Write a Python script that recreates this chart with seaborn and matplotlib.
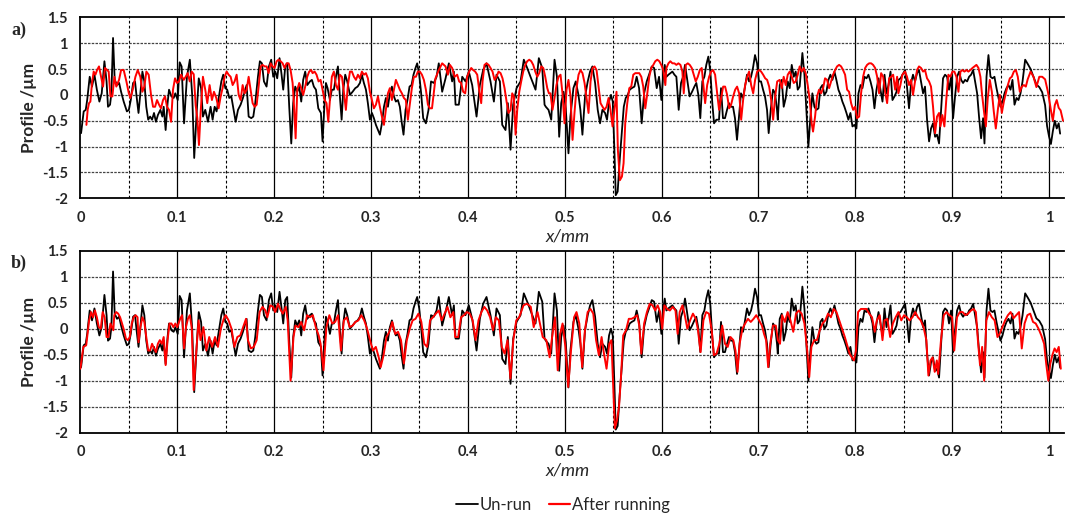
import numpy as np
import pandas as pd
import matplotlib
matplotlib.use("Agg")
import matplotlib.pyplot as plt
import seaborn as sns
from matplotlib.lines import Line2D

# ---------------- data ----------------
unrun_x = [0.0007,0.0034,0.0055,0.007,0.0096,0.012,0.0145,0.017,0.0196,0.022,0.0248,0.027,0.0285,0.0306,0.032,0.0337,0.0354,0.0378,0.04,0.042,0.0447,0.048,0.05,0.052,0.0544,0.0564,0.058,0.060,0.062,0.064,0.066,0.068,0.070,0.072,0.074,0.076,0.078,0.080,0.0826,0.0846,0.086,0.088,0.090,0.0915,0.094,0.0963,0.098,0.1005,0.1025,0.1045,0.107,0.110,0.113,0.1155,0.1175,
0.12,0.1222,0.1246,0.1265,0.1289,0.1317,0.1344,0.1365,0.1386,0.1406,0.143,0.1455,0.1475,0.1496,0.1516,0.1537,0.1558,0.1582,0.1603,0.1627,0.1654,0.1678,0.1702,0.1716,0.1737,0.1764,0.1785,0.1805,0.1833,0.1853,0.1874,0.1895,0.1922,0.1946,0.197,0.1991,0.2012,0.2032,0.2056,0.2077,0.2094,0.2115,0.2135,0.2156,0.2177,0.2197,0.2218,0.2239,0.2259,0.228,0.23,0.2321,0.2342,
0.237,0.239,0.241,0.2432,0.2456,0.2483,0.25,0.2517,0.2535,0.2552,0.2576,0.2596,0.2617,0.2638,0.2659,0.2679,0.2697,0.2714,0.2734,0.2755,0.2783,0.281,0.2838,0.2862,0.2886,0.2906,0.2927,0.2948,0.2968,0.2989,0.301,0.303,0.3051,0.3072,0.3092,0.3113,0.3134,0.3154,0.3175,0.3195,0.3216,0.3237,0.3257,0.3278,0.3298,0.3319,0.3336,0.3357,0.3377,0.3398,0.3419,0.3439,0.346,0.3477,0.3498,0.3518,0.3539,0.3567,0.3594,
0.362,0.3649,0.3677,0.37,0.3735,0.377,0.3804,0.3838,0.3856,0.3873,0.3907,0.3942,0.3976,0.401,0.4045,0.409,0.4124,0.4158,0.4193,0.4234,0.4269,0.4296,0.4331,0.4355,0.4389,0.4413,0.4441,0.4468,0.4503,0.4544,0.4578,0.4613,0.4647,0.4699,0.4733,0.4768,
0.4792,0.4805,0.4833,0.4861,0.4895,0.492,0.4943,0.4964,0.4988,0.5011,0.5039,0.5059,0.509,0.5114,0.5142,0.5162,0.5183,0.521,0.5238,0.5262,0.5286,0.5314,0.5341,0.5365,0.5389,0.5417,0.5437,0.5458,0.5478,0.5496,0.5513,0.5527,0.5547,0.5568,0.5589,0.561,0.563,0.5651,0.5671,0.5692,0.572,0.5743,0.5768,0.5795,0.582,0.5847,0.5871,0.5899,0.5923,0.595,0.5974,
0.5998,0.6016,0.6033,0.605,0.6071,0.6091,0.6112,0.6133,0.6153,0.6177,0.6201,0.6222,0.6242,0.6263,0.629,0.6315,0.6339,0.6359,0.638,0.64,0.6421,0.6442,0.6462,0.6483,0.6504,0.6524,0.6542,0.6566,0.6593,0.6614,0.6634,0.6655,0.6676,0.6696,0.6717,0.6738,0.6758,0.6779,0.68,0.682,0.6841,0.6862,0.6882,0.6903,0.6924,0.6944,0.6965,0.6986,0.7006,0.7027,0.7048,0.7068,0.7089,0.7106,0.7127,0.7151,0.7172,0.7192,
0.72,0.722,0.7241,0.7261,0.7282,0.7303,0.7323,0.7344,0.7365,0.7385,0.7406,0.7426,0.7454,0.7475,0.7495,0.7516,0.7537,0.7557,0.7578,0.7599,0.762,0.764,0.7661,0.7681,0.7702,0.7723,0.7743,0.7764,0.7785,0.7805,0.7826,0.7847,0.7867,0.7888,0.7909,0.7929,0.795,0.7971,0.7991,0.8012,0.8033,0.8054,0.8074,0.8095,0.8116,0.8136,0.8157,0.8178,0.8198,0.8219,0.824,0.826,0.8281,0.8302,0.8322,0.8343,0.8364,0.8384,0.8405,0.8426,0.8446,0.8467,0.8488,
0.8514,0.8534,0.8555,0.8576,0.8596,0.8617,0.8638,0.8658,0.8679,0.87,0.872,0.8741,0.8762,0.8782,0.8803,0.8824,0.8844,0.8865,0.8886,0.8906,0.8927,0.8948,0.8968,0.8989,0.901,0.903,0.9051,0.9072,0.9093,0.9113,0.9134,0.9155,0.9175,0.9196,0.9217,0.9237,0.9258,0.9279,0.9299,0.932,0.9334,0.9355,0.9375,0.9396,0.9417,0.9437,0.9458,0.9479,0.9499,0.952,0.9541,0.9561,0.9582,0.9603,0.9623,0.9644,0.9665,0.9685,0.9706,0.9727,0.9754,
0.978,0.981,0.984,0.987,0.99,0.993,0.996,0.998,1.0,1.002,1.004,1.006,1.008,1.01,1.0115]
unrun_y = [-0.74,-0.32,-0.29,-0.1,0.35,0.16,0.39,0.10,-0.13,0.03,0.65,0.26,-0.23,-0.19,0.03,1.1,0.29,0.19,0.23,0.06,-0.13,-0.32,-0.29,-0.1,0.23,0.26,-0.03,-0.35,0.06,0.45,0.26,-0.23,-0.48,-0.42,-0.48,-0.35,-0.52,-0.39,-0.29,-0.42,-0.23,-0.68,-0.16,0.1,-0.03,-0.06,0.03,-0.1,0.63,0.55,-0.55,0.35,0.68,-0.03,-1.22,
-0.35,0.32,0.13,-0.42,-0.29,-0.52,-0.23,-0.48,-0.23,-0.32,-0.03,0.26,0.39,0.13,0.1,-0.06,-0.03,-0.29,-0.52,-0.29,-0.19,-0.06,0.1,0.19,-0.42,-0.45,-0.42,-0.16,0.35,0.65,0.61,0.26,0.16,0.55,0.68,0.35,0.45,0.32,0.71,0.39,0.1,0.55,0.61,-0.23,-0.94,-0.16,0.16,0.06,0.16,-0.13,0.29,0.45,0.19,
0.26,0.29,0.16,0.1,-0.26,-0.35,-0.9,-0.29,0.23,0.13,-0.1,0.1,0.1,0.35,0.55,-0.03,-0.48,0.1,0.39,0.26,0.0,0.06,0.13,0.16,0.23,0.39,0.23,0.1,-0.16,-0.48,-0.35,-0.45,-0.58,-0.68,-0.77,-0.55,-0.23,-0.06,-0.23,0.03,0.16,-0.03,-0.13,-0.1,-0.23,-0.55,-0.77,-0.29,-0.1,0.16,0.19,0.39,0.52,0.61,0.39,0.03,-0.45,-0.55,-0.29,
0.26,0.23,0.35,0.61,0.06,0.32,0.61,0.26,0.45,-0.19,-0.19,0.35,0.26,0.45,0.19,-0.42,0.19,0.48,0.61,0.26,-0.13,0.39,0.26,-0.58,-0.68,-0.16,-1.06,-0.19,0.13,0.26,0.68,0.52,0.35,0.1,0.71,0.52,
-0.19,-0.23,-0.29,-0.48,0.68,0.35,-0.81,-0.16,0.06,-0.26,-1.13,-0.42,0.13,0.26,0.0,-0.29,-0.77,-0.03,0.26,0.45,0.55,0.23,-0.29,-0.55,-0.29,-0.35,-0.48,-0.13,0.0,-0.13,-1.06,-1.94,-1.87,-1.26,-0.74,-0.23,-0.06,0.0,0.1,0.13,0.16,0.35,0.13,-0.55,0.03,0.26,0.39,0.55,0.52,0.13,0.35,
-0.1,0.35,0.58,0.35,0.39,0.42,0.45,0.39,0.35,-0.29,0.23,0.35,0.58,0.32,-0.03,0.06,0.16,0.23,0.0,-0.45,0.26,0.35,0.58,0.74,0.45,-0.16,-0.55,-0.48,-0.48,0.13,-0.45,-0.45,-0.29,-0.16,-0.23,-0.23,-0.45,-0.87,-0.42,0.03,-0.06,0.16,0.39,0.26,0.35,0.52,0.77,0.61,0.26,0.26,0.1,-0.03,-0.29,-0.74,-0.29,0.1,0.03,-0.29,
-0.48,0.19,0.29,-0.23,-0.06,0.26,0.13,0.58,0.35,0.45,0.1,0.16,0.81,0.39,-0.29,-1.0,-0.42,0.03,-0.23,-0.29,-0.26,0.13,0.19,0.0,0.06,0.29,0.39,0.29,0.45,0.29,0.1,0.0,-0.13,-0.23,-0.35,-0.48,-0.35,-0.61,-0.58,-0.65,0.03,0.19,0.13,0.35,0.32,0.39,0.26,0.1,-0.26,0.1,0.32,0.1,-0.13,0.39,0.03,0.19,0.45,-0.1,-0.03,0.06,0.29,0.32,0.39,
0.48,0.16,-0.26,0.23,0.39,0.26,0.42,0.48,0.26,0.03,0.16,-0.48,-0.9,-0.65,-0.55,-0.81,-0.77,-0.94,-0.29,0.32,0.39,0.35,0.1,0.35,-0.45,-0.03,0.35,0.45,0.29,0.23,0.29,0.26,0.35,0.39,0.48,0.26,0.03,-0.45,-0.84,-0.45,-0.94,0.35,0.77,0.35,0.32,0.35,0.13,-0.06,-0.23,-0.13,0.03,0.13,0.19,0.1,0.29,-0.19,-0.06,-0.1,0.03,0.26,0.68,
0.6,0.5,0.35,0.2,0.15,0.05,-0.2,-0.6,-0.8,-0.95,-0.7,-0.5,-0.65,-0.55,-0.75]

after_a_x = [0.0062,0.0075,0.0089,0.0103,0.012,0.0137,0.0155,0.0172,0.0192,0.0213,0.0234,0.0254,0.0275,0.0292,0.031,0.033,0.0351,0.0371,0.0399,0.042,0.0447,0.0475,0.05,0.0516,0.054,0.0568,0.0592,0.0619,0.064,0.066,0.0681,0.0705,0.0729,0.075,0.0771,0.0791,0.0812,0.0832,0.0853,0.0874,0.0894,0.0915,0.0936,0.0956,0.0977,0.0998,0.1018,0.1039,0.1067,0.1087,0.1108,0.1129,0.1149,0.117,0.119,0.1207,0.1224,0.1241,
0.1265,0.1289,0.131,0.1334,0.1358,0.1379,0.1403,0.1427,0.1448,0.1468,0.1489,0.151,0.153,0.1551,0.1572,0.1592,0.1613,0.1634,0.1654,0.1675,0.1696,0.1716,0.1737,0.1757,0.1778,0.1799,0.182,0.184,0.1861,0.1881,0.1902,0.1923,0.1943,0.1964,0.1984,0.2005,0.2026,0.2046,0.2067,0.2088,0.2108,0.2129,0.215,0.217,0.2191,0.2208,0.2222,0.2239,0.2259,0.228,0.23,0.2321,0.2342,0.2362,0.2383,
0.2397,0.2418,0.2438,0.2459,0.248,0.25,0.2521,0.2541,0.2559,0.2576,0.2596,0.2617,0.2638,0.2659,0.2679,0.27,0.272,0.2741,0.2762,0.2783,0.2803,0.2824,0.2845,0.2865,0.2886,0.2906,0.2927,0.2948,0.2968,0.2989,0.301,0.303,0.3051,0.3072,0.3092,0.3113,0.3134,0.3154,0.3175,0.3195,0.3216,0.3237,0.3257,0.3278,0.3298,0.3319,0.334,0.336,0.3381,0.3402,0.3422,0.3443,0.3464,0.3484,0.3505,0.3526,0.3546,0.3567,0.3588,0.3608,
0.363,0.3666,0.37,0.3735,0.377,0.3794,0.3815,0.3838,0.3863,0.389,0.391,0.3931,0.3952,0.3973,0.3993,0.4014,0.4035,0.4055,0.4076,0.4097,0.4117,0.4138,0.4152,0.4172,0.4193,0.4214,0.4234,0.4255,0.4276,0.4296,0.4317,0.4338,0.4358,0.4379,0.44,0.442,0.4441,0.4458,0.4475,0.4493,0.451,0.4531,0.4551,0.4572,0.4593,0.4613,0.4634,0.4655,0.4675,0.4696,0.4717,0.4737,0.4758,0.4779,0.4799,0.482,
0.4837,0.4853,0.4874,0.4895,0.4915,0.4936,0.4957,0.4977,0.4998,0.5019,0.5039,0.506,0.5081,0.5101,0.5122,0.5143,0.5163,0.5184,0.5205,0.5225,0.5246,0.5267,0.5287,0.5308,0.5329,0.5349,0.537,0.5391,0.5411,0.5432,0.5453,0.5473,0.5494,0.5515,0.5535,0.5549,0.557,0.5591,0.5608,0.5625,0.5646,0.5667,0.5687,0.5708,0.5729,0.5749,0.577,0.5791,0.5811,0.5832,0.5853,0.5873,0.5894,0.5915,0.5935,0.5956,0.5977,0.5997,0.6018,0.6039,
0.605,0.6071,0.6091,0.6112,0.6133,0.6153,0.6174,0.6195,0.6215,0.6229,0.625,0.6271,0.6291,0.6312,0.6333,0.6353,0.6374,0.6395,0.6415,0.6436,0.645,0.6471,0.6491,0.6512,0.6532,0.6553,0.6574,0.6594,0.6615,0.6636,0.6656,0.6677,0.6698,0.6718,0.6739,0.676,0.678,0.6801,0.6822,0.6842,0.6863,0.6884,0.6904,0.6925,0.6946,0.6966,0.6987,0.7008,0.7028,0.7049,0.707,0.709,0.7111,0.7132,0.7152,0.7173,0.7194,
0.722,0.7241,0.7261,0.7282,0.7303,0.7323,0.7344,0.7365,0.7385,0.7406,0.7426,0.7447,0.7468,0.7488,0.7509,0.753,0.755,0.7564,0.7585,0.7606,0.7626,0.7647,0.7668,0.7688,0.7709,0.773,0.775,0.7771,0.7792,0.7812,0.7833,0.7854,0.7874,0.7895,0.7916,0.7936,0.7957,0.7978,0.7998,0.8019,0.804,0.806,0.8081,0.8102,0.8122,0.8143,0.8164,0.8184,0.8205,0.8226,0.8246,0.8267,0.8288,0.8308,0.8329,0.835,0.837,0.8391,0.8412,0.8432,
0.8445,0.8466,0.8486,0.8514,0.8534,0.8555,0.8576,0.8596,0.8617,0.8638,0.8658,0.8679,0.87,0.872,0.8741,0.8762,0.8782,0.8803,0.8824,0.8844,0.8865,0.8879,0.8899,0.892,0.8941,0.8961,0.8982,0.9003,0.9023,0.9044,0.9065,0.9086,0.9106,0.9127,0.9148,0.9168,0.9189,0.921,0.923,0.9251,0.9272,0.9292,0.9306,0.9327,0.9348,0.9368,0.9389,0.941,0.943,0.9451,0.9472,0.9492,0.9513,0.9534,0.9554,0.9575,0.9596,0.9616,0.9637,0.9658,0.9678,0.9699,0.972,0.9741,0.9761,
0.978,0.981,0.984,0.987,0.99,0.993,0.996,0.999,1.002,1.004,1.006,1.008,1.01,1.012,1.0145]
after_a_y = [-0.58,-0.29,-0.16,-0.13,0.23,0.45,0.39,0.48,0.55,0.35,0.16,0.52,0.48,0.45,-0.03,-0.03,0.35,0.16,0.29,0.48,0.48,0.26,0.03,-0.06,0.1,0.35,0.48,0.35,0.06,0.16,0.45,0.39,0.0,-0.23,-0.23,-0.1,-0.19,-0.26,-0.1,-0.03,-0.23,-0.29,-0.52,0.1,0.32,0.23,0.26,0.39,0.29,0.35,0.42,0.26,0.45,0.40,-0.2,-0.45,-0.97,-0.35,
0.35,0.1,-0.16,0.19,-0.1,0.06,-0.06,-0.26,-0.03,0.13,0.35,0.45,0.39,0.35,0.19,0.26,0.39,0.0,-0.1,0.19,0.03,0.1,0.35,0.1,-0.16,-0.23,-0.19,0.16,0.55,0.58,0.55,0.55,0.42,0.61,0.55,0.52,0.65,0.68,0.65,0.61,0.52,0.61,0.61,0.48,0.23,-0.29,-0.84,0.1,0.23,0.13,0.0,0.16,0.35,0.45,0.48,
0.42,0.45,0.39,0.26,0.29,0.1,-0.1,-0.16,-0.52,-0.1,0.35,0.45,0.19,0.1,0.39,0.35,0.06,-0.29,0.19,0.45,0.45,0.35,0.29,0.39,0.32,0.45,0.39,0.42,0.32,0.06,-0.1,-0.26,-0.19,-0.03,-0.23,-0.42,-0.58,-0.29,0.03,0.13,-0.1,0.1,0.29,0.19,0.1,0.03,-0.06,-0.1,-0.48,-0.16,0.13,0.35,0.35,0.45,0.45,0.39,0.29,0.1,-0.19,-0.26,
-0.26,0.32,0.48,0.61,0.55,0.39,0.58,0.52,0.35,0.39,0.26,0.23,0.06,0.03,0.35,0.45,0.52,0.48,0.45,0.39,0.1,-0.16,0.26,0.58,0.61,0.58,0.52,0.45,0.29,0.35,0.45,0.42,0.32,0.13,-0.13,-0.35,-0.29,0.03,-0.03,-0.77,-0.29,0.06,0.26,0.45,0.58,0.65,0.68,0.65,0.58,0.45,0.35,0.42,0.55,0.52,0.35,0.13,
0.03,0.03,-0.29,-0.06,0.19,0.35,0.39,0.03,-0.55,0.1,0.29,-0.03,-0.87,-0.35,0.13,0.39,0.48,0.42,0.23,-0.06,-0.35,0.26,0.52,0.55,0.48,0.16,-0.16,-0.23,-0.29,-0.23,-0.06,-0.29,-0.61,-0.26,0.06,-1.06,-1.65,-1.58,-1.32,-0.55,-0.16,0.13,0.16,0.39,0.42,0.42,0.42,0.35,0.16,-0.26,0.03,0.35,0.52,0.58,0.65,0.68,0.65,0.58,0.48,0.19,
0.52,0.61,0.65,0.61,0.61,0.58,0.61,0.58,0.45,0.03,0.58,0.61,0.58,0.52,0.39,0.26,0.35,0.48,0.52,0.1,-0.16,0.19,0.35,0.45,0.48,0.39,0.03,-0.29,-0.06,0.16,0.16,0.0,-0.26,-0.19,-0.03,0.1,0.16,0.03,-0.48,-0.1,0.19,0.35,0.45,0.19,0.03,0.29,0.45,0.48,0.45,0.39,0.32,0.29,0.16,-0.1,-0.48,-0.03,0.26,
0.29,0.13,0.35,0.19,0.39,0.45,0.35,0.23,0.26,0.39,0.55,0.45,0.52,0.42,0.19,-0.1,-0.55,-0.71,-0.42,-0.03,0.1,0.03,0.13,0.32,0.29,0.13,0.26,0.39,0.48,0.55,0.58,0.55,0.48,0.39,0.1,0.06,-0.16,-0.29,-0.23,-0.45,-0.42,0.03,0.35,0.52,0.58,0.61,0.61,0.58,0.52,0.35,0.03,0.42,0.35,0.06,-0.16,0.32,0.35,0.39,0.1,0.35,
0.03,0.19,0.39,0.45,0.35,0.19,0.29,0.0,0.26,0.48,0.55,0.52,0.45,0.48,0.32,0.26,0.16,-0.23,-0.74,-0.42,-0.35,-0.61,-0.39,-0.61,-0.06,0.39,0.35,0.45,0.45,0.35,0.06,0.45,0.48,0.45,0.48,0.45,0.48,0.52,0.55,0.58,0.52,0.35,0.06,-0.29,-0.61,-0.06,0.29,0.06,-0.32,-0.65,-0.29,0.0,-0.35,-0.13,0.03,0.19,0.32,0.35,0.45,0.48,0.35,0.06,0.16,0.19,0.16,
0.3,0.45,0.35,0.15,0.35,0.35,0.3,0.05,-0.3,-0.5,-0.2,-0.1,-0.25,-0.3,-0.5]

after_b_x = [0.0,0.003,0.006,0.009,0.011,0.013,0.015,0.017,0.019,0.021,0.023,0.025,0.027,0.029,0.031,0.034,0.035,0.037,0.039,0.041,0.043,0.045,0.047,0.049,0.051,0.053,0.055,0.057,0.059,0.060,0.062,0.064,0.066,0.068,0.070,0.072,0.074,0.076,0.078,0.080,0.082,0.084,0.086,0.088,0.090,0.092,0.094,0.096,0.098,0.100,0.103,0.105,0.107,0.109,0.111,0.113,0.115,0.117,0.120,0.122,0.124,0.127,0.130,0.133,0.136,0.139,0.142,0.145,0.148,0.150,0.153,0.156,0.159,0.162,0.165,0.168,0.171,0.173,0.176,0.179,0.182,0.185,0.188,0.191,0.193,0.196,0.199,0.201,0.204,0.207,0.209,0.212,0.214,0.217,0.220,0.222,0.225,0.228,0.231,0.234,0.237,0.240,0.243,0.246,0.248,0.251,0.254,0.257,0.260,0.263,0.266,0.269,0.272,0.275,0.278,0.281,0.284,0.287,0.290,0.293,0.296,0.299,0.302,0.305,0.308,0.310,0.313,0.316,0.319,0.322,0.325,0.328,0.331,0.334,0.337,0.340,0.343,0.346,0.349,0.352,0.355,0.358,0.361,0.364,0.367,0.370,0.373,0.376,0.379,0.382,0.385,0.387,0.390,0.393,0.396,0.399,0.402,0.405,0.408,0.411,0.414,0.417,0.420,0.423,0.426,0.429,0.432,0.435,0.438,0.441,0.444,0.447,0.450,0.453,0.4575,0.461,0.465,0.468,0.472,0.4773,0.481,0.4845,0.487,0.49,0.4928,0.4953,0.4978,0.5007,0.5036,0.5065,0.5097,0.5122,0.5151,0.518,0.5209,0.5237,0.5266,0.5295,0.5324,0.5353,0.5381,0.5403,0.5432,0.546,0.5482,0.5504,0.5518,0.554,0.5561,0.5583,0.5604,0.5633,0.5662,0.5691,0.572,0.5748,0.577,0.5791,0.582,0.5849,0.5878,0.5906,0.5935,0.596,0.5986,0.6007,0.6029,0.6058,0.6086,0.6115,0.6144,0.6166,0.6187,0.6216,0.6237,0.6266,0.6295,0.6324,0.6353,0.6374,0.6403,0.6432,0.646,0.6489,0.6518,0.654,0.6568,0.6597,0.6626,0.6655,0.6683,0.6712,0.6741,0.6763,0.6784,0.6806,0.6835,0.6863,0.6892,0.6921,0.695,0.6978,0.7007,0.7036,0.7058,0.7079,0.7101,0.7122,0.7151,0.718,0.7201,0.7223,0.7245,0.7273,0.7302,0.7331,0.736,0.7388,0.7417,0.7446,0.7475,0.7504,0.7525,0.7547,0.7576,0.7604,0.7633,0.7662,0.7691,0.7719,0.7748,0.7777,0.7806,0.7835,0.7863,0.7892,0.7921,0.7942,0.7964,0.7986,0.8007,0.8029,0.8058,0.8086,0.8115,0.8144,0.8173,0.8201,0.8223,0.8252,0.8281,0.8302,0.8331,0.836,0.8388,0.8417,0.8446,0.8475,0.8504,0.8532,0.8561,0.859,0.8619,0.8647,0.8676,0.8705,0.8734,0.8755,0.8777,0.8799,0.882,0.8842,0.8856,0.8885,0.8914,0.8942,0.8971,0.9,0.9022,0.905,0.9079,0.9108,0.9137,0.9165,0.9194,0.9223,0.9245,0.9266,0.9288,0.931,0.9331,0.9353,0.9381,0.941,0.9439,0.9468,0.949,0.9518,0.9547,0.9576,0.9604,0.9633,0.9662,0.9691,0.9719,0.9748,0.9777,0.9806,0.9835,0.9863,0.9892,0.9921,0.995,0.9971,0.9993,1.0014,1.0036,1.0058,1.0079,1.0101,1.0122]
after_b_y = [-0.77,-0.35,-0.32,0.16,0.32,0.22,0.35,0.22,0.03,0.0,0.32,0.22,-0.16,-0.16,0.1,-0.03,0.26,0.32,0.29,0.22,0.1,-0.03,-0.19,-0.22,-0.16,0.1,0.22,0.26,0.22,-0.26,0.03,0.22,0.13,-0.16,-0.42,-0.42,-0.29,-0.38,-0.45,-0.29,-0.22,-0.29,-0.16,-0.7,-0.22,0.1,0.1,0.03,0.1,0.03,0.19,0.26,-0.38,0.03,0.19,0.26,0.0,-1.18,-0.35,0.16,-0.22,0.03,-0.42,-0.16,-0.35,-0.16,-0.35,0.0,0.19,0.26,0.16,0.0,-0.35,-0.16,-0.13,0.03,0.19,-0.22,-0.38,-0.35,-0.22,0.32,0.42,0.35,0.22,0.45,0.42,0.32,0.48,0.35,0.29,0.42,0.16,-1.0,-0.16,0.06,0.03,0.13,-0.03,0.26,0.22,0.26,0.03,-0.13,-0.29,-0.8,0.03,0.26,0.1,0.13,0.26,-0.42,0.16,0.22,0.03,0.06,0.13,0.16,0.26,0.16,0.0,-0.22,-0.42,-0.35,-0.55,-0.74,-0.51,-0.16,-0.06,0.13,-0.1,-0.06,-0.22,-0.67,-0.22,0.0,0.16,0.19,0.29,0.13,-0.29,-0.35,0.16,0.22,0.29,0.35,0.16,0.29,0.42,0.22,0.32,-0.16,-0.16,0.22,0.26,0.32,0.29,0.16,-0.22,0.16,0.32,0.42,0.35,0.22,-0.03,0.22,0.16,-0.35,-0.48,-0.22,-0.96,-0.22,0.16,0.22,0.45,0.48,0.42,0.03,0.32,-0.16,-0.22,-0.55,-0.16,0.22,-0.8,-0.1,0.1,-0.35,-1.12,-0.42,0.22,0.32,0.1,-0.74,-0.03,0.32,0.38,0.29,-0.22,-0.51,-0.16,-0.45,-0.77,-0.29,-0.22,-1.25,-1.92,-1.76,-1.5,-0.87,-0.13,-0.03,0.19,0.19,0.22,0.26,0.06,-0.48,0.1,0.32,0.48,0.45,0.35,0.45,0.32,0.0,0.45,0.38,0.35,0.42,0.35,-0.1,0.32,0.45,0.29,0.0,0.16,0.29,0.19,0.0,-0.45,0.16,0.32,0.29,-0.03,-0.51,-0.48,-0.29,0.06,-0.29,-0.35,-0.16,-0.22,-0.42,-0.83,-0.29,0.0,0.1,0.19,0.13,0.19,0.26,0.16,0.06,-0.1,-0.22,-0.74,-0.29,0.06,0.06,-0.22,-0.29,0.26,0.13,0.32,0.16,-0.06,0.29,0.35,0.29,0.1,-0.42,-0.93,-0.35,-0.22,-0.22,-0.03,0.1,0.16,0.29,0.22,0.38,0.32,0.16,0.0,-0.16,-0.35,-0.48,-0.55,-0.61,-0.42,0.32,0.38,0.38,0.38,0.29,0.22,-0.06,0.16,0.26,-0.22,0.16,0.19,-0.16,0.1,0.22,0.32,0.16,0.26,0.22,0.16,0.22,0.32,0.22,0.16,0.03,-0.22,-0.9,-0.61,-0.55,-0.83,-0.61,-0.87,-0.22,0.26,0.32,0.26,0.22,-0.42,0.22,0.32,0.32,0.26,0.29,0.35,0.38,0.32,-0.22,-0.7,-0.35,-1.0,0.16,0.32,0.22,0.16,-0.16,-0.1,0.03,0.16,0.26,0.32,0.2,0.26,0.32,-0.38,0.1,0.26,0.29,0.13,0.1,0.0,-0.13,-0.29,-0.67,-1.0,-0.67,-0.5,-0.38,-0.45,-0.35,-0.77]

x_ticks = [0, 0.1, 0.2, 0.3, 0.4, 0.5, 0.6, 0.7, 0.8, 0.9, 1]
x_tick_labels = ["0", "0.1", "0.2", "0.3", "0.4", "0.5", "0.6", "0.7", "0.8", "0.9", "1"]
y_ticks = [-2, -1.5, -1, -0.5, 0, 0.5, 1, 1.5]
y_tick_labels = ["-2", "-1.5", "-1", "-0.5", "0", "0.5", "1", "1.5"]
series_names = ["Un-run", "After running"]
panel_labels = ["a)", "b)"]

# ---------------- figure ----------------
sns.set_theme(style="white")
plt.rcParams["font.family"] = ["Lato", "DejaVu Sans"]

W, H = 1065, 513
fig = plt.figure(figsize=(W / 100, H / 100), dpi=100)

left = 80.4 / W
width = (1064 - 80.4) / W
panels = [(17.3, 198.3), (250.7, 432.7)]

df_unrun = pd.DataFrame({"x": unrun_x, "y": unrun_y})
df_a = pd.DataFrame({"x": after_a_x, "y": after_a_y})
df_b = pd.DataFrame({"x": after_b_x, "y": after_b_y})

axes = []
for i, (ptop, pbot) in enumerate(panels):
    ax = fig.add_axes([left, 1 - pbot / H, width, (pbot - ptop) / H])
    axes.append(ax)
    red_df = df_a if i == 0 else df_b
    sns.lineplot(data=df_unrun, x="x", y="y", ax=ax, color="black", lw=1.3,
                 estimator=None, sort=False, zorder=3)
    sns.lineplot(data=red_df, x="x", y="y", ax=ax, color="#FF0000", lw=1.4,
                 estimator=None, sort=False, zorder=4)
    ax.set_xlim(0, 1.0155)
    ax.set_ylim(-2, 1.5)
    ax.set_xticks(x_ticks)
    ax.set_xticklabels(x_tick_labels)
    ax.set_yticks(y_ticks)
    ax.set_yticklabels(y_tick_labels)
    ax.grid(False)
    for xv in x_ticks[1:]:
        ax.axvline(xv, color="black", lw=0.9, zorder=1)
    for xv in np.arange(0.05, 1.0, 0.1):
        ax.axvline(xv, color="black", lw=0.8, ls=(0, (2.5, 2)), zorder=1)
    for yv in y_ticks[1:-1]:
        ax.axhline(yv, color="#444444", lw=0.9, ls=(0, (2, 1)), zorder=1)
    ax.tick_params(axis="both", which="both", length=0, labelsize=10.5, pad=9)
    for lab in ax.get_xticklabels() + ax.get_yticklabels():
        lab.set_fontweight("bold")
    for s in ["left", "bottom", "top"]:
        ax.spines[s].set_color("black")
        ax.spines[s].set_linewidth(1.3)
    ax.spines["right"].set_visible(False)
    ax.set_xlabel("")
    ax.set_ylabel("")
    cy = 1 - (ptop + pbot) / 2 / H
    fig.text(29 / W, cy, "Profile /µm", rotation=90, ha="center", va="center",
             fontsize=12.5, fontweight="bold")
    fig.text(19 / W, 1 - (ptop + 13) / H, panel_labels[i], ha="center", va="center",
             fontsize=13, fontweight="bold", family=["Liberation Serif", "DejaVu Serif"])
    fig.text(left + width / 2 - 0.004, 1 - (pbot + 38) / H, "x/mm", ha="center",
             va="center", fontsize=13, fontstyle="italic")

handles = [Line2D([], [], color="black", lw=1.3), Line2D([], [], color="#FF0000", lw=1.6)]
fig.legend(handles, series_names, loc="center", bbox_to_anchor=(563 / W, 1 - 505 / H),
           ncol=2, frameon=False, fontsize=12, handlelength=1.3, handletextpad=0.1,
           columnspacing=1.0, borderaxespad=0)

fig.savefig("out.png", dpi=100)
